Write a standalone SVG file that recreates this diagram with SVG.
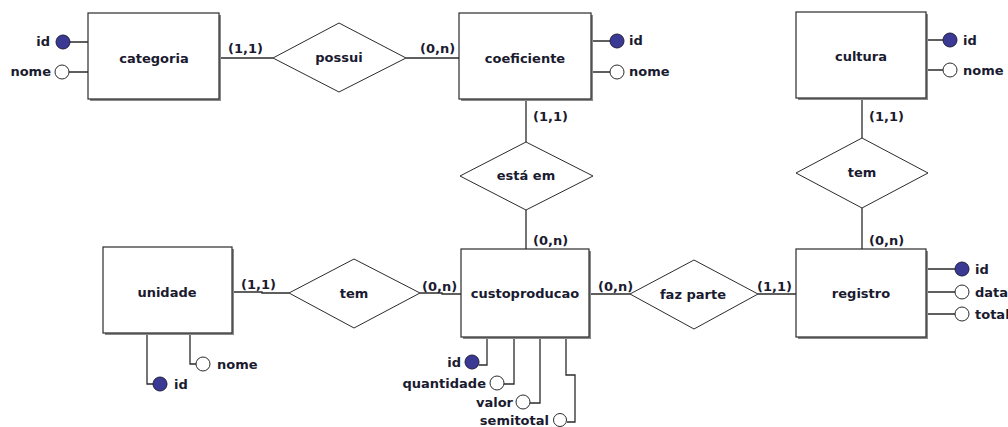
<svg xmlns="http://www.w3.org/2000/svg" width="1008" height="427" viewBox="0 0 1008 427">
<style>
  text { font-family: "DejaVu Sans", "Liberation Sans", sans-serif; font-weight: bold; font-size: 13px; fill: #1a1a30; }
  .c { text-anchor: middle; }
  .e { text-anchor: end; }
  .box { fill: #ffffff; stroke: #2b2b2b; stroke-width: 1.2; }
  .sh { fill: #8a8a8a; }
  .rel { fill: #ffffff; stroke: #2b2b2b; stroke-width: 1; }
  .ln { fill: none; stroke: #2b2b2b; stroke-width: 1.3; }
  .pk { fill: #3a3a94; stroke: #1f1f3f; stroke-width: 1; }
  .at { fill: #ffffff; stroke: #2b2b2b; stroke-width: 1; }
</style>
<rect width="1008" height="427" fill="#ffffff"/>

<g id="connectors">
  <path class="ln" d="M219 58H273 M406 58H459"/>
  <path class="ln" d="M526 99V142 M526 210V249"/>
  <path class="ln" d="M862 98V138 M862 208V249"/>
  <path class="ln" d="M232 292H262V293H289 M420 293H442V294H461"/>
  <path class="ln" d="M589 294H630 M758 294H796"/>
  <path class="ln" d="M70 42H88 M69 72H88"/>
  <path class="ln" d="M591 41H610 M591 72H610"/>
  <path class="ln" d="M926 40H943 M926 70H943"/>
  <path class="ln" d="M926 269H955 M926 292H955 M926 314H955"/>
  <path class="ln" d="M147 333V384H153 M190 333V364H196"/>
  <path class="ln" d="M487 337V365H479 M514 337V384H504 M540 337V403H530 M566 337V375H575V422H567"/>
</g>

<g id="categoria">
  <rect class="sh" x="90" y="15" width="131" height="86"/>
  <rect class="box" x="88" y="13" width="131" height="86"/>
  <text class="c" x="154" y="63">categoria</text>
  <circle class="pk" cx="63" cy="42" r="7"/>
  <text class="e" x="50" y="46">id</text>
  <circle class="at" cx="62" cy="72" r="7"/>
  <text class="e" x="51" y="76">nome</text>
</g>

<g id="possui">
  <polygon class="rel" points="273,58 339,23 406,58 339,92"/>
  <text class="c" x="339" y="62">possui</text>
</g>

<g id="coeficiente">
  <rect class="sh" x="461" y="15" width="132" height="86"/>
  <rect class="box" x="459" y="13" width="132" height="86"/>
  <text class="c" x="525" y="63">coeficiente</text>
  <circle class="pk" cx="617" cy="41" r="7"/>
  <text x="629" y="45">id</text>
  <circle class="at" cx="617" cy="72" r="7"/>
  <text x="629" y="76">nome</text>
</g>

<g id="cultura">
  <rect class="sh" x="798" y="14" width="130" height="86"/>
  <rect class="box" x="796" y="12" width="130" height="86"/>
  <text class="c" x="861" y="61">cultura</text>
  <circle class="pk" cx="950" cy="40" r="7"/>
  <text x="963" y="45">id</text>
  <circle class="at" cx="950" cy="70" r="7"/>
  <text x="963" y="75">nome</text>
</g>

<g id="esta_em">
  <polygon class="rel" points="460,176 526,142 593,176 526,210"/>
  <text class="c" x="526" y="180">está em</text>
</g>

<g id="tem_cultura">
  <polygon class="rel" points="796,173 862,138 928,173 862,208"/>
  <text class="c" x="862" y="177">tem</text>
</g>

<g id="unidade">
  <rect class="sh" x="105" y="249" width="129" height="86"/>
  <rect class="box" x="103" y="247" width="129" height="86"/>
  <text class="c" x="167" y="297">unidade</text>
  <circle class="pk" cx="160" cy="384" r="7"/>
  <text x="174" y="389">id</text>
  <circle class="at" cx="203" cy="364" r="7"/>
  <text x="217" y="369">nome</text>
</g>

<g id="tem_unidade">
  <polygon class="rel" points="289,293 354,259 420,293 354,328"/>
  <text class="c" x="354" y="298">tem</text>
</g>

<g id="custoproducao">
  <rect class="sh" x="463" y="251" width="128" height="88"/>
  <rect class="box" x="461" y="249" width="128" height="88"/>
  <text class="c" x="525" y="298">custoproducao</text>
  <circle class="pk" cx="472" cy="362" r="7"/>
  <text class="e" x="461" y="367">id</text>
  <circle class="at" cx="497" cy="383" r="7"/>
  <text class="e" x="486" y="388">quantidade</text>
  <circle class="at" cx="523" cy="402" r="7"/>
  <text class="e" x="513" y="407">valor</text>
  <circle class="at" cx="560" cy="420" r="6.5"/>
  <text class="e" x="549" y="425">semitotal</text>
</g>

<g id="faz_parte">
  <polygon class="rel" points="630,294 694,260 758,294 694,329"/>
  <text class="c" x="693" y="299">faz parte</text>
</g>

<g id="registro">
  <rect class="sh" x="798" y="251" width="130" height="88"/>
  <rect class="box" x="796" y="249" width="130" height="88"/>
  <text class="c" x="861" y="298">registro</text>
  <circle class="pk" cx="962" cy="269" r="7"/>
  <text x="975" y="274">id</text>
  <circle class="at" cx="962" cy="292" r="7"/>
  <text x="975" y="297">data</text>
  <circle class="at" cx="962" cy="314" r="7"/>
  <text x="975" y="319">total</text>
</g>

<g id="cardinalities">
  <text x="228" y="53">(1,1)</text>
  <text x="420" y="53">(0,n)</text>
  <text x="533" y="121">(1,1)</text>
  <text x="533" y="245">(0,n)</text>
  <text x="869" y="121">(1,1)</text>
  <text x="869" y="245">(0,n)</text>
  <text x="241" y="289">(1,1)</text>
  <text x="422" y="291">(0,n)</text>
  <text x="598" y="291">(0,n)</text>
  <text x="757" y="291">(1,1)</text>
</g>
</svg>
